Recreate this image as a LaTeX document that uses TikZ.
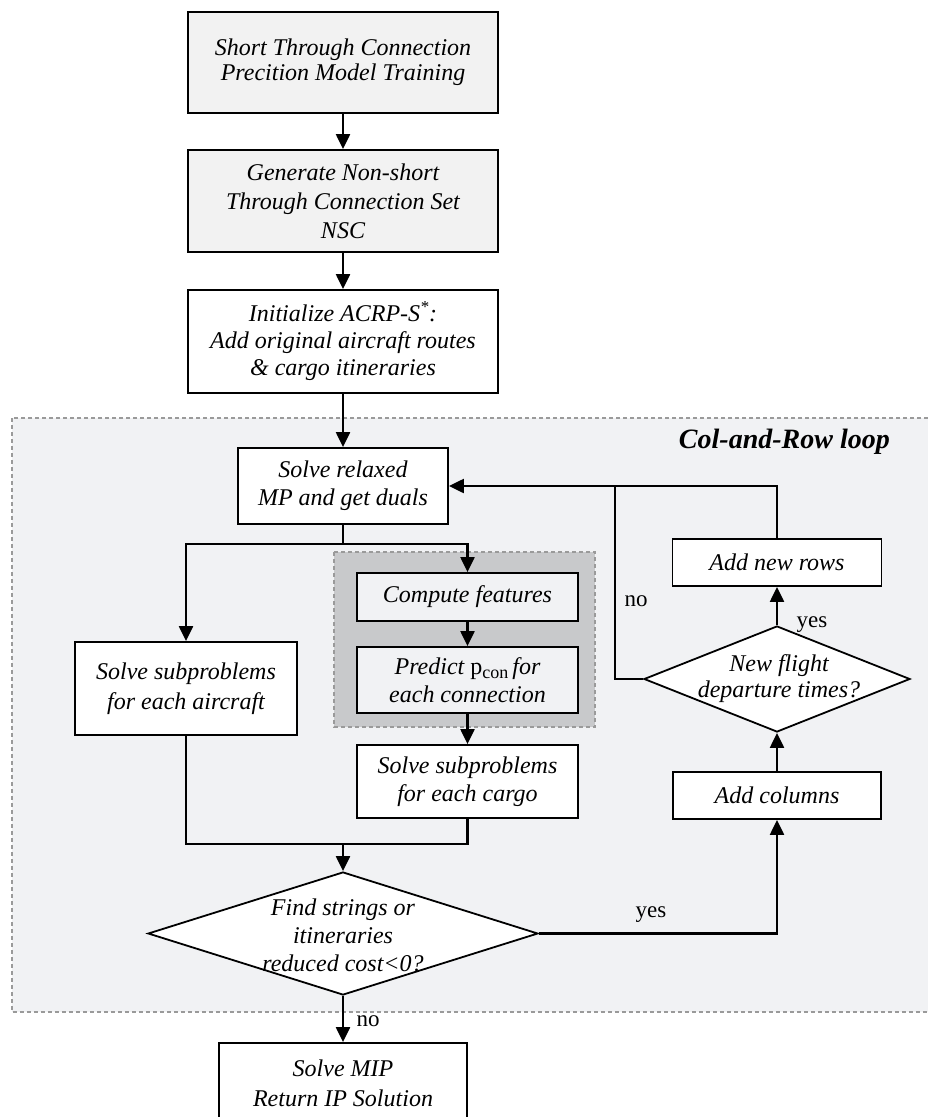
\documentclass[tikz,border=0pt]{standalone}
\usepackage{fontspec}
\setmainfont{Liberation Serif}
\usetikzlibrary{arrows.meta,shapes.geometric}
\definecolor{regionfill}{HTML}{F1F2F4}
\definecolor{boxgray}{HTML}{F2F2F2}
\definecolor{innerfill}{HTML}{C8C9CB}
\definecolor{dashgray}{HTML}{9A9A9A}
\begin{document}
\begin{tikzpicture}[x=1pt,y=-1pt,
  box/.style={draw=black, line width=1.8pt, fill=white, rectangle, inner sep=0pt, align=center,
    font=\fontsize{24}{28}\selectfont\itshape},
  graybox/.style={box, fill=boxgray},
  lightbox/.style={box, fill=regionfill},
  decision/.style={draw=black, line width=1.8pt, fill=white, diamond, inner sep=0pt},
  dtext/.style={align=center, inner sep=0pt, font=\fontsize{24}{28}\selectfont\itshape},
  conn/.style={line width=2.2pt, -{Triangle[length=15pt,width=14pt]}},
  plainline/.style={line width=2.2pt},
  region/.style={draw=dashgray, dash pattern=on 4pt off 3pt, line width=1.2pt},
  lbl/.style={inner sep=0pt, font=\fontsize{23}{24}\selectfont}]
\useasboundingbox (0,0) rectangle (927,1117);

% regions
\draw[region, fill=regionfill] (12,418) rectangle (940,1012);
\draw[region, fill=innerfill] (334,552) rectangle (595,727);
\node[anchor=east, inner sep=0pt, font=\fontsize{28}{30}\selectfont\bfseries\itshape] (title) at (890,442) {Col-and-Row loop};

% nodes
\node[graybox, minimum width=310pt, minimum height=101pt, font=\fontsize{24}{25}\selectfont\itshape] (b1) at (343,62.5)
  {Short Through Connection\\Precition Model Training};
\node[graybox, minimum width=310pt, minimum height=102pt, font=\fontsize{24}{29}\selectfont\itshape] (b2) at (343,201)
  {Generate Non-short\\Through Connection Set\\NSC};
\node[box, minimum width=310pt, minimum height=103pt, font=\fontsize{24}{27}\selectfont\itshape] (b3) at (343,341.5)
  {Initialize ACRP-S\textsuperscript{*}:\\Add original aircraft routes\\\& cargo itineraries};
\node[box, minimum width=210pt, minimum height=76pt] (relax) at (343,486)
  {Solve relaxed\\MP and get duals};
\node[box, minimum width=222pt, minimum height=93pt, font=\fontsize{24}{30}\selectfont\itshape] (air) at (186,688.5)
  {Solve subproblems\\for each aircraft};
\node[lightbox, minimum width=221pt, minimum height=48pt] (comp) at (467.5,597)
  {Compute features};
\node[lightbox, minimum width=221pt, minimum height=66pt] (pred) at (467.5,680)
  {Predict {\upshape p}\raisebox{-0.35ex}{\fontsize{18}{18}\selectfont\upshape con}\,for\\each connection};
\node[box, minimum width=221pt, minimum height=73pt] (cargo) at (467.5,781.5)
  {Solve subproblems\\for each cargo};
\node[decision, minimum width=390pt, minimum height=123pt] (d1) at (343,933.5) {};
\node[dtext] (d1t) at (343,935) {Find strings or\\itineraries\\reduced cost<0?};
\node[box, minimum width=208pt, minimum height=47pt] (addcol) at (777,795.5) {Add columns};
\node[decision, minimum width=266pt, minimum height=106pt] (d2) at (777,679) {};
\node[dtext, font=\fontsize{24}{26}\selectfont\itshape] (d2t) at (779,679) {New flight\\departure times?};
\node[box, minimum width=209pt, minimum height=47pt] (addrow) at (777,562.5) {Add new rows};
\node[box, minimum width=248pt, minimum height=80pt, font=\fontsize{24}{30}\selectfont\itshape] (mip) at (343,1083)
  {Solve MIP\\Return IP Solution};

% connectors
\draw[conn] (b1) -- (b2);
\draw[conn] (b2) -- (b3);
\draw[conn] (b3) -- (relax);
\coordinate (br) at (343,544);
\draw[plainline] (relax.south) -- (br);
\draw[conn] (br) -| (air.north);
\draw[conn] (br) -| (comp.north);
\draw[conn] (comp) -- (pred);
\draw[conn] (pred) -- (cargo);
\coordinate (mg) at (343,844);
\draw[plainline] (air.south) |- (mg);
\draw[plainline] (cargo.south) |- (mg);
\draw[conn] (mg) -- (d1.north);
\draw[conn] (d1.east) -| (addcol.south);
\draw[conn] (addcol.north) -- (d2.south);
\draw[conn] (d2.north) -- (addrow.south);
\draw[conn] (addrow.north) |- (relax.east);
\coordinate (nj) at (615,486);
\draw[plainline] (d2.west) -| (nj);
\draw[conn] (d1.south) -- (mip.north);

% labels
\node[lbl] (yes1) at (651,915) {yes};
\node[lbl] (yes2) at (812,625) {yes};
\node[lbl] (no1) at (636,601) {no};
\node[lbl] (no2) at (368,1021) {no};
\end{tikzpicture}
\end{document}
